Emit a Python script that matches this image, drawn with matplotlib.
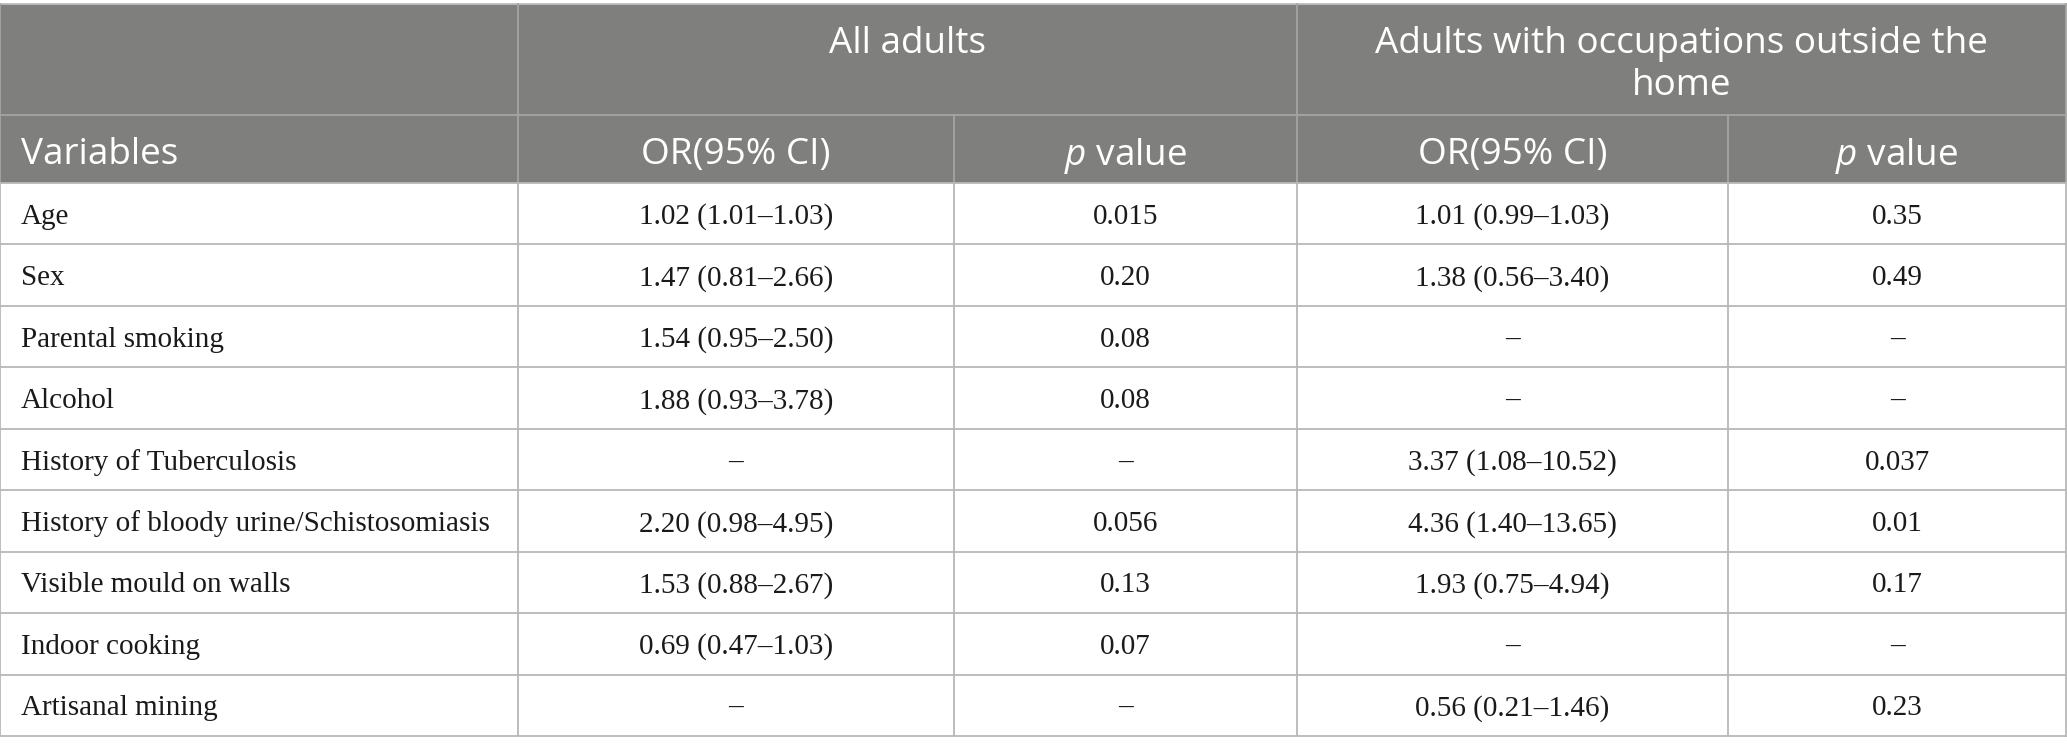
import matplotlib
matplotlib.use("Agg")
import matplotlib.pyplot as plt
from matplotlib.patches import Rectangle

plt.rcParams['mathtext.fontset'] = 'custom'
plt.rcParams['mathtext.rm'] = 'Open Sans'
plt.rcParams['mathtext.it'] = 'Open Sans:italic'

# ---- data ----
group_headers = ["All adults", "Adults with occupations outside the\nhome"]
column_headers = ["Variables", "OR(95% CI)", "$p$ value", "OR(95% CI)", "$p$ value"]
variables = ["Age", "Sex", "Parental smoking", "Alcohol", "History of Tuberculosis",
             "History of bloody urine/Schistosomiasis", "Visible mould on walls",
             "Indoor cooking", "Artisanal mining"]
all_or = ["1.02 (1.01–1.03)", "1.47 (0.81–2.66)", "1.54 (0.95–2.50)", "1.88 (0.93–3.78)",
          "–", "2.20 (0.98–4.95)", "1.53 (0.88–2.67)", "0.69 (0.47–1.03)", "–"]
all_p = ["0.015", "0.20", "0.08", "0.08", "–", "0.056", "0.13", "0.07", "–"]
occ_or = ["1.01 (0.99–1.03)", "1.38 (0.56–3.40)", "–", "–", "3.37 (1.08–10.52)",
          "4.36 (1.40–13.65)", "1.93 (0.75–4.94)", "–", "0.56 (0.21–1.46)"]
occ_p = ["0.35", "0.49", "–", "–", "0.037", "0.01", "0.17", "–", "0.23"]

# ---- layout (pixels) ----
W, H = 2067, 754
col_edges = [0, 518, 954, 1297, 1728, 2066]
top, h1_bottom, h2_bottom = 4, 115, 183
row_h = (736 - h2_bottom) / len(variables)

HEAD_BG = "#7f807e"
HEAD_LINE = "#a4a5a3"
GRID = "#b8b8b8"
head_font = dict(family="Open Sans", size=26.6, color="white")
body_font = dict(family="Liberation Serif", size=21, color="#1a1a1a")

fig = plt.figure(figsize=(W / 100, H / 100), dpi=100)
ax = fig.add_axes([0, 0, 1, 1])
ax.set_xlim(0, W)
ax.set_ylim(H, 0)
ax.axis("off")

# header background
ax.add_patch(Rectangle((0, top), col_edges[-1], h2_bottom - top, facecolor=HEAD_BG, edgecolor="none"))

lw = 1.3
# header lines
ax.plot([0, col_edges[-1]], [top, top], color="#bdbdbd", lw=lw)
ax.plot([0, col_edges[-1]], [h1_bottom, h1_bottom], color=HEAD_LINE, lw=lw)
for x in [col_edges[1], col_edges[3]]:
    ax.plot([x, x], [top, h2_bottom], color=HEAD_LINE, lw=lw)
for x in [col_edges[2], col_edges[4]]:
    ax.plot([x, x], [h1_bottom, h2_bottom], color=HEAD_LINE, lw=lw)
ax.plot([0, 0], [top, h2_bottom], color=HEAD_LINE, lw=lw)
ax.plot([col_edges[-1]] * 2, [top, h2_bottom], color=HEAD_LINE, lw=lw)

# body grid
n = len(variables)
for i in range(n + 1):
    y = h2_bottom + i * row_h
    ax.plot([0, col_edges[-1]], [y, y], color=GRID, lw=lw)
for x in col_edges:
    ax.plot([x, x], [h2_bottom, h2_bottom + n * row_h], color=GRID, lw=lw)

# group headers
for gi, label in enumerate(group_headers):
    x0, x1 = col_edges[1 + 2 * gi], col_edges[3 + 2 * gi]
    ax.text((x0 + x1) / 2, 26, label, ha="center", va="top", linespacing=1.22, **head_font)

# column headers
ymid = (h1_bottom + h2_bottom) / 2 + 1
ax.text(21, ymid, column_headers[0], ha="left", va="center_baseline", **head_font)
for ci in range(1, 5):
    cx = (col_edges[ci] + col_edges[ci + 1]) / 2
    ax.text(cx, ymid, column_headers[ci], ha="center", va="center_baseline", **head_font)

# body
cols = [all_or, all_p, occ_or, occ_p]
for i, var in enumerate(variables):
    y = h2_bottom + (i + 0.5) * row_h
    ax.text(21, y, var, ha="left", va="center_baseline", **body_font)
    for ci, col in enumerate(cols):
        cx = (col_edges[ci + 1] + col_edges[ci + 2]) / 2
        ax.text(cx, y, col[i], ha="center", va="center_baseline", **body_font)

fig.savefig("out.png", dpi=100, facecolor="white")
